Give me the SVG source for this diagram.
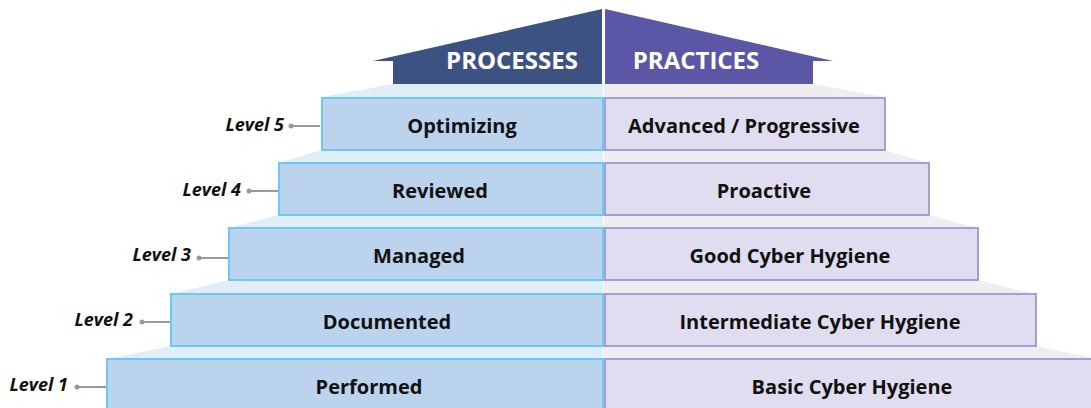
<svg xmlns="http://www.w3.org/2000/svg" width="1091" height="408" viewBox="0 0 1091 408">
<style>
.bl{fill:#BCD3EE;stroke:#6CC9F7;stroke-width:2}
.br{fill:#E0DDF0;stroke:#A39FD0;stroke-width:2}
.tl{fill:#E0EEF7}
.tr{fill:#F1ECF1}
.t{font-family:"Open Sans","Liberation Sans",sans-serif;font-weight:bold;font-size:20px;fill:#111;text-anchor:middle}
.lv{font-family:"Open Sans","Liberation Sans",sans-serif;font-weight:bold;font-style:italic;font-size:18px;fill:#111;text-anchor:end}
.hd{font-family:"Open Sans","Liberation Sans",sans-serif;font-weight:bold;font-size:24px;fill:#fff;text-anchor:middle}
.ln{stroke:#999;stroke-width:2;fill:none}
.dt{fill:#999}
</style>
<rect width="1091" height="408" fill="#fff"/>
<g id="roof">
<polygon points="602,9 602,84 393,84 393,61 373,61" fill="#3B5282"/>
<polygon points="605,9 605,84 813,84 813,61 833,61" fill="#5C56A6"/>
<text class="hd" x="512" y="69">PROCESSES</text>
<text class="hd" x="696" y="69">PRACTICES</text>
</g>
<g id="treads">
<polygon class="tl" points="393,84 603,84 603,97 322,97"/>
<polygon class="tr" points="813,84 604,84 604,97 884,97"/>
<polygon class="tl" points="322,150 603,150 603,163 278,163"/>
<polygon class="tr" points="884,150 604,150 604,163 928,163"/>
<polygon class="tl" points="278,215 603,215 603,228 229,228"/>
<polygon class="tr" points="928,215 604,215 604,228 977,228"/>
<polygon class="tl" points="229,280 603,280 603,294 171,294"/>
<polygon class="tr" points="977,280 604,280 604,294 1035,294"/>
<polygon class="tl" points="171,346 603,346 603,359 107,359"/>
<polygon class="tr" points="1035,346 604,346 604,359 1099,359"/>
</g>
<g id="level5">
<rect class="bl" x="322" y="98" width="281" height="52"/>
<rect class="br" x="605" y="98" width="280" height="52"/>
<text class="t" x="462" y="133">Optimizing</text>
<text class="t" x="744" y="133">Advanced / Progressive</text>
</g>
<g id="level4">
<rect class="bl" x="279" y="163" width="324" height="52"/>
<rect class="br" x="605" y="163" width="324" height="52"/>
<text class="t" x="440" y="198">Reviewed</text>
<text class="t" x="764" y="198">Proactive</text>
</g>
<g id="level3">
<rect class="bl" x="229" y="228" width="374" height="52"/>
<rect class="br" x="605" y="228" width="373" height="52"/>
<text class="t" x="419" y="263">Managed</text>
<text class="t" x="790" y="263">Good Cyber Hygiene</text>
</g>
<g id="level2">
<rect class="bl" x="171" y="294" width="432" height="52"/>
<rect class="br" x="605" y="294" width="431" height="52"/>
<text class="t" x="387" y="329">Documented</text>
<text class="t" x="820" y="329">Intermediate Cyber Hygiene</text>
</g>
<g id="level1">
<rect class="bl" x="107" y="359" width="496" height="60"/>
<rect class="br" x="605" y="359" width="495" height="60"/>
<text class="t" x="369" y="394">Performed</text>
<text class="t" x="852" y="394">Basic Cyber Hygiene</text>
</g>
<g id="labels">
<text class="lv" x="284" y="131">Level 5</text>
<text class="lv" x="241" y="196">Level 4</text>
<text class="lv" x="191" y="261">Level 3</text>
<text class="lv" x="133" y="326">Level 2</text>
<text class="lv" x="68" y="391">Level 1</text>
</g>
<g id="connectors">
<line class="ln" x1="291" y1="126" x2="320" y2="126"/><circle class="dt" cx="291" cy="126" r="2.5"/>
<line class="ln" x1="249" y1="191" x2="278" y2="191"/><circle class="dt" cx="249" cy="191" r="2.5"/>
<line class="ln" x1="199" y1="258" x2="228" y2="258"/><circle class="dt" cx="199" cy="258" r="2.5"/>
<line class="ln" x1="142" y1="322" x2="170" y2="322"/><circle class="dt" cx="142" cy="322" r="2.5"/>
<line class="ln" x1="77" y1="387" x2="106" y2="387"/><circle class="dt" cx="77" cy="387" r="2.5"/>
</g>
</svg>
